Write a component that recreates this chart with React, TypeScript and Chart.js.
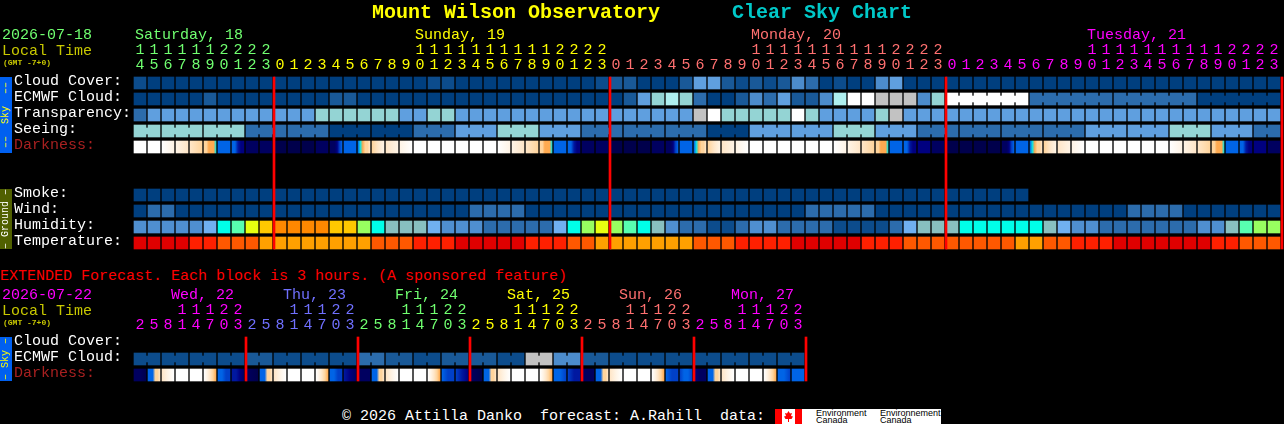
import React, { useEffect, useRef } from 'react';
import Chart from 'chart.js/auto';

const MONO = '"Liberation Mono", monospace';

// hour labels under each day colour
const hours = [
  '14', '15', '16', '17', '18', '19', '20', '21', '22', '23',
  '0', '1', '2', '3', '4', '5', '6', '7', '8', '9', '10', '11', '12', '13', '14', '15', '16', '17', '18', '19', '20', '21', '22', '23',
  '0', '1', '2', '3', '4', '5', '6', '7', '8', '9', '10', '11', '12', '13', '14', '15', '16', '17', '18', '19', '20', '21', '22', '23',
  '0', '1', '2', '3', '4', '5', '6', '7', '8', '9', '10', '11', '12', '13', '14', '15', '16', '17', '18', '19', '20', '21', '22', '23',
];
const hoursExt = [
  '2', '5', '8', '11', '14', '17', '20', '23', '2', '5', '8', '11', '14', '17', '20', '23',
  '2', '5', '8', '11', '14', '17', '20', '23', '2', '5', '8', '11', '14', '17', '20', '23',
  '2', '5', '8', '11', '14', '17', '20', '23', '2', '5', '8', '11', '14', '17', '20', '23',
];

const rowNames = ['Cloud Cover:', 'ECMWF Cloud:', 'Transparency:', 'Seeing:', 'Darkness:', '', '', 'Smoke:', 'Wind:', 'Humidity:', 'Temperature:'];
const rowNamesExt = ['Cloud Cover:', 'ECMWF Cloud:', 'Darkness:'];

const cloudCover = [
  1, 0, 0, 0, 0, 0, 0, 0, 0, 0,
  0, 0, 0, 0, 0, 0, 0, 0, 0, 0,
  0, 1, 1, 0, 0, 0, 0, 0, 0, 0,
  0, 0, 0, 1, 2, 2, 0, 0, 0, 2,
  5, 5, 2, 1, 2, 1, 2, 4, 3, 0,
  1, 0, 0, 4, 5, 0, 0, 0, 0, 0,
  0, 0, 0, 0, 0, 0, 0, 0, 0, 0,
  0, 0, 0, 0, 0, 0, 0, 0, 0, 0,
  0, 0,
];
const ecmwfCloud = [
  0, 0, 0, 0, 0, 2, 0, 0, 0, 0,
  0, 0, 0, 0, 2, 2, 0, 0, 0, 0,
  0, 0, 0, 0, 0, 0, 0, 0, 0, 0,
  0, 0, 0, 0, 0, 2, 5, 6, 7, 6,
  3, 0, 0, 2, 4, 3, 5, 2, 2, 4,
  7, 8, 8, 9, 9, 9, 4, 6, 8, 8,
  8, 8, 8, 8, 3, 3, 3, 3, 3, 3,
  3, 3, 3, 3, 3, 3, 0, 0, 0, 0,
  0, 0,
];
const transparency = [
  3, 5, 5, 5, 5, 5, 5, 5, 5, 5,
  5, 5, 5, 6, 6, 6, 6, 6, 6, 5,
  5, 6, 6, 5, 5, 5, 5, 5, 5, 5,
  5, 5, 5, 5, 5, 5, 5, 5, 5, 5,
  9, 8, 6, 6, 6, 6, 6, 8, 6, 5,
  5, 5, 5, 6, 9, 5, 5, 5, 5, 5,
  5, 5, 5, 5, 5, 5, 5, 5, 5, 5,
  5, 5, 5, 5, 5, 5, 5, 5, 5, 5,
  5, 5,
];
const seeing = [
  6, 6, 6, 6, 6, 6, 6, 6, 3, 3,
  3, 3, 3, 3, 0, 0, 0, 0, 0, 0,
  3, 3, 3, 5, 5, 5, 6, 6, 6, 5,
  5, 5, 3, 3, 3, 3, 3, 3, 3, 3,
  3, 0, 0, 0, 5, 5, 5, 5, 5, 5,
  6, 6, 6, 5, 5, 5, 3, 3, 3, 3,
  3, 3, 3, 3, 3, 3, 3, 3, 5, 5,
  5, 5, 5, 5, 6, 6, 6, 5, 5, 5,
  3, 3,
];
// stops across each block, left to right
const darkness = [
  [0], [0], [0, 1], [1, 2], [2, 3], [3, 3, 4, 4, 4, 5],
  [6], [6, 6, 8, 9, 9], [10], [10], [11], [11], [11], [10], [10, 10, 10, 9, 7, 6], [6],
  [6, 5, 4, 3, 3, 2], [3, 2, 1], [2, 1], [1, 0],
  [0], [0], [0], [0], [0], [0], [0, 1], [1, 2], [2, 3], [3, 3, 4, 4, 4, 5],
  [6], [6, 6, 8, 9, 9], [10], [10], [11], [11], [11], [10], [10, 10, 10, 9, 7, 6], [6],
  [6, 5, 4, 3, 3, 2], [3, 2, 1], [2, 1], [1, 0],
  [0], [0], [0], [0], [0], [0], [0, 1], [1, 2], [2, 3], [3, 3, 4, 4, 4, 5],
  [6], [6, 6, 8, 9, 9], [9], [10], [11], [11], [11], [11], [10, 10, 10, 9, 7, 6], [6],
  [6, 5, 4, 3, 3, 2], [3, 2, 1], [2, 1], [1, 0],
  [0], [0], [0], [0], [0], [0], [0, 1], [1, 2], [2, 3], [3, 3, 4, 4, 4, 5],
  [6], [6, 6, 8, 9, 9], [9], [10],
];
const smoke = [
  0, 0, 0, 0, 0, 0, 0, 0, 0, 0,
  0, 0, 0, 0, 0, 0, 0, 0, 0, 0,
  0, 0, 0, 0, 0, 0, 0, 0, 0, 0,
  0, 0, 0, 0, 0, 0, 0, 0, 0, 0,
  0, 0, 0, 0, 0, 0, 0, 0, 0, 0,
  0, 0, 0, 0, 0, 0, 0, 0, 0, 0,
  0, 0, 0, 0,
];
const wind = [
  0, 3, 3, 0, 0, 0, 0, 0, 0, 0,
  0, 0, 0, 0, 0, 0, 0, 0, 0, 0,
  0, 0, 0, 0, 3, 3, 3, 3, 0, 0,
  0, 0, 0, 0, 0, 0, 0, 0, 0, 0,
  0, 0, 0, 0, 0, 0, 0, 0, 3, 3,
  3, 3, 3, 0, 0, 0, 0, 0, 0, 0,
  0, 0, 0, 0, 0, 0, 0, 0, 0, 0,
  0, 3, 3, 3, 3, 0, 0, 0, 0, 0,
  0, 0,
];
const humidity = [
  2, 2, 2, 2, 2, 3, 5, 6, 8, 9,
  10, 10, 10, 10, 9, 9, 7, 5, 4, 4,
  4, 3, 2, 2, 2, 1, 1, 1, 1, 1,
  3, 5, 7, 8, 7, 6, 5, 4, 2, 1,
  1, 0, 0, 1, 2, 2, 1, 1, 1, 1,
  0, 0, 0, 0, 1, 3, 4, 4, 4, 5,
  5, 5, 5, 5, 5, 4, 3, 2, 2, 1,
  1, 1, 1, 1, 1, 1, 2, 2, 4, 6,
  7, 7,
];
const temperature = [
  0, 0, 0, 0, 1, 1, 2, 2, 2, 3,
  3, 3, 3, 3, 3, 3, 3, 2, 2, 2,
  1, 1, 1, 0, 0, 0, 0, 0, 1, 1,
  1, 2, 2, 3, 3, 3, 3, 3, 3, 3,
  2, 2, 2, 1, 1, 1, 1, 0, 0, 0,
  0, 0, 1, 1, 1, 2, 2, 2, 2, 2,
  2, 2, 2, 3, 3, 2, 2, 1, 1, 1,
  0, 0, 0, 0, 0, 0, 0, 1, 1, 2,
  2, 2,
];

const ecmwfExt = [
  1, 1, 1, 1, 1, 1, 1, 1, 2, 2, 1, 1, 1, 1, 1, 1,
  3, 3, 2, 2, 1, 1, 2, 2, 2, 2, 1, 1, 9, 9, 4, 4,
  2, 2, 1, 1, 1, 1, 1, 1, 1, 1, 1, 1, 1, 1, 1, 1,
];
const darknessExt = [
  [10, 10, 11], [6, 6, 6, 3, 3, 2], [2, 1, 0], [0], [0], [0, 1, 2, 3, 4], [6, 6, 7, 7], [8, 8, 9, 10],
  [10, 11], [6, 6, 6, 3, 3, 2], [2, 1, 0], [0], [0], [0, 1, 2, 3, 4], [6, 6, 7, 7], [8, 9, 10],
  [10, 10], [6, 6, 6, 3, 3, 2], [2, 1, 0], [0], [0], [0, 1, 2, 3, 4], [6, 7, 7], [7, 8, 9],
  [10, 11], [6, 6, 6, 3, 3, 2], [2, 1, 0], [0], [0], [0, 1, 2, 3, 4], [6, 6, 7], [7, 8, 8],
  [10, 10], [6, 6, 6, 3, 3, 2], [2, 1, 0], [0], [0], [0, 1, 2, 3, 4], [6, 7, 7], [7, 6, 6, 7],
  [9, 10, 10], [6, 6, 6, 3, 3, 2], [2, 1, 0], [0], [0], [0, 1, 2, 3, 4], [6, 6, 7], [6, 6, 6],
];

const dayStarts = [0, 10, 34, 58];
const dayColors = ['#70ff70', '#ffff00', '#ff7070', '#ff00ff'];
const dayStartsExt = [0, 8, 16, 24, 32, 40];
const dayColorsExt = ['#ff00ff', '#7070ff', '#70ff70', '#ffff00', '#ff7070', '#ff00ff'];
const dayEnds = [9.5, 33.5, 57.5, 81.5];
const dayEndsExt = [7.5, 15.5, 23.5, 31.5, 39.5, 47.5];

const skyPalette = ['#003f7f', '#0c4c8c', '#195998', '#2c6cac', '#4c8ccc', '#5f9fdf', '#94d4d4', '#afefef', '#ffffff', '#c2c2c2'];
const humidityPalette = ['#0c4c8c', '#2c6cac', '#4f8fd0', '#70b0f0', '#88c0c0', '#00ffe8', '#58ffb0', '#98ff60', '#e8ff10', '#ffc800', '#ff8800'];
const tempPalette = ['#e00000', '#ff2000', '#ff5800', '#ffa000'];
const darkPalette = ['#ffffff', '#fff4e6', '#ffe6c8', '#ffd49c', '#ffaa50', '#10e0e0', '#0064e6', '#0040c8', '#0018a0', '#000080', '#000060', '#00004c'];

const HALF = 6 / 16; // half a block height in row units
const BLOCK = 14;
const X_MAX = -0.5 + 1151 / BLOCK;

const cells = (row: number, levels: number[], palette: string[]) => ({
  barThickness: 12,
  data: levels.map((_, i) => ({ x: i, y: [row - HALF, row + HALF] })),
  backgroundColor: levels.map(v => palette[v]),
});

// the small neck that joins blocks of the same forecast run
const necks = (row: number, levels: number[], palette: string[], first: number, len: number) => {
  const data: any[] = [];
  const colors: string[] = [];
  for (let i = Math.max(first, 0); i < levels.length - 1; i++) {
    if ((i - first + 1) % len !== 0) {
      data.push({ x: i + 0.5, y: [row - HALF / 2, row + HALF / 2] });
      colors.push(palette[levels[i]]);
    }
  }
  return { barThickness: 2, data, backgroundColor: colors };
};

const darkCells = (row: number, stops: number[][]) => ({
  barThickness: 12,
  data: stops.map((_, i) => ({ x: i, y: [row - HALF, row + HALF] })),
  backgroundColor: (ctx: any) => {
    if (ctx.dataIndex === undefined) return darkPalette[0];
    const list = stops[ctx.dataIndex];
    if (list.length === 1) return darkPalette[list[0]];
    const left = ctx.chart.scales.x.getPixelForValue(ctx.dataIndex) - 6;
    if (!Number.isFinite(left)) return darkPalette[list[0]];
    const g = ctx.chart.ctx.createLinearGradient(left, 0, left + 12, 0);
    list.forEach((s, k) => g.addColorStop(k / (list.length - 1), darkPalette[s]));
    return g;
  },
});

const dayLines = (ends: number[], lastRow: number) => ({
  barThickness: 2,
  data: ends.map(e => ({ x: e + 1 / BLOCK, y: [-HALF, lastRow + HALF] })),
  backgroundColor: '#ff0000',
});

const makeOptions = (
  labels: string[], starts: number[], colors: string[],
  names: string[], lastRow: number, padTop: number, padBottom: number,
): any => ({
  responsive: false,
  animation: false,
  events: [],
  layout: { padding: { left: 14, top: padTop, bottom: padBottom, right: 0 } },
  datasets: { bar: { grouped: false } },
  plugins: { legend: { display: false }, tooltip: { enabled: false } },
  scales: {
    x: {
      type: 'linear',
      position: 'top',
      offset: false,
      min: -0.5,
      max: X_MAX,
      grid: { display: false },
      border: { display: false },
      afterFit: (s: any) => { s.height = 45; s.paddingLeft = 0; s.paddingRight = 0; },
      afterBuildTicks: (s: any) => { s.ticks = labels.map((_, i) => ({ value: i })); },
      ticks: {
        autoSkip: false,
        maxRotation: 0,
        minRotation: 0,
        padding: -6,
        font: { family: MONO, size: 15, lineHeight: 1 },
        callback: (_: any, i: number) => {
          const h = labels[i];
          return h.length > 1 ? [h[0], h[1]] : ['', h];
        },
        color: (ctx: any) => {
          let c = colors[0];
          starts.forEach((st, k) => { if (ctx.index >= st) c = colors[k]; });
          return c;
        },
      },
    },
    y: {
      type: 'linear',
      reverse: true,
      min: -0.5,
      max: lastRow + 0.5,
      grid: { display: false },
      border: { display: false },
      afterFit: (s: any) => { s.width = 119; s.paddingTop = 0; s.paddingBottom = 0; },
      afterBuildTicks: (s: any) => { s.ticks = names.map((_, i) => ({ value: i })); },
      ticks: {
        autoSkip: false,
        crossAlign: 'far',
        // the empty second line lifts the names a little above the row centre
        font: { family: MONO, size: 15, lineHeight: '4px' },
        callback: (_: any, i: number) => [names[i], ''],
        color: (ctx: any) => (names[ctx.index] === 'Darkness:' ? '#a82020' : '#ffffff'),
      },
    },
  },
});

const txt = (x: number, y: number, color: string, text: string, extra: React.CSSProperties = {}) => (
  <span
    style={{
      position: 'absolute', left: x, top: y - 9, height: 20, lineHeight: '20px', color,
      font: `15px/20px ${MONO}`, whiteSpace: 'pre', ...extra,
    }}
  >
    {text}
  </span>
);

const tab = (top: number, height: number, bg: string, color: string, text: string) => (
  <div
    style={{
      position: 'absolute', left: 0, top, width: 12, height, background: bg, color,
      display: 'flex', alignItems: 'center', justifyContent: 'center',
    }}
  >
    <span style={{ writingMode: 'vertical-rl', transform: 'rotate(180deg)', font: `10px/12px ${MONO}`, whiteSpace: 'pre' }}>{text}</span>
  </div>
);

export default function App() {
  const mainRef = useRef<HTMLCanvasElement>(null);
  const extRef = useRef<HTMLCanvasElement>(null);

  useEffect(() => {
    document.body.style.margin = '0';
    document.body.style.background = '#000';
    const main = new Chart(mainRef.current!, {
      type: 'bar',
      data: {
        datasets: [
          dayLines(dayEnds, 10),
          cells(0, cloudCover, skyPalette),
          cells(1, ecmwfCloud, skyPalette),
          necks(1, ecmwfCloud, skyPalette, 58, 6),
          cells(2, transparency, skyPalette),
          cells(3, seeing, skyPalette),
          necks(3, seeing, skyPalette, -1, 3),
          darkCells(4, darkness),
          cells(7, smoke, skyPalette),
          cells(8, wind, skyPalette),
          cells(9, humidity, humidityPalette),
          cells(10, temperature, tempPalette),
        ] as any,
      },
      options: makeOptions(hours, dayStarts, dayColors, rowNames, 10, 30, 5),
    });
    const ext = new Chart(extRef.current!, {
      type: 'bar',
      data: {
        datasets: [
          dayLines(dayEndsExt, 2),
          cells(1, ecmwfExt, skyPalette),
          necks(1, ecmwfExt, skyPalette, 0, 2),
          darkCells(2, darknessExt),
        ] as any,
      },
      options: makeOptions(hoursExt, dayStartsExt, dayColorsExt, rowNamesExt, 2, 0, 7),
    });
    return () => {
      main.destroy();
      ext.destroy();
    };
  }, []);

  const title: React.CSSProperties = { font: `bold 20px/20px ${MONO}` };
  const gmt: React.CSSProperties = { font: `bold 8px/20px ${MONO}` };

  return (
    <div style={{ position: 'relative', width: 1284, height: 424, background: '#000', overflow: 'hidden' }}>
      <canvas ref={mainRef} width={1284} height={256} style={{ position: 'absolute', left: 0, top: 0 }} />
      <canvas ref={extRef} width={1284} height={100} style={{ position: 'absolute', left: 0, top: 290 }} />

      {txt(372, 12, '#ffff00', 'Mount Wilson Observatory', title)}
      {txt(732, 12, '#00c8c8', 'Clear Sky Chart', title)}

      {txt(2, 35, '#70ff70', '2026-07-18')}
      {txt(2, 51, '#c8c800', 'Local Time')}
      {txt(3, 62, '#c8c800', '(GMT -7+0)', gmt)}
      {txt(135, 35, '#70ff70', 'Saturday, 18')}
      {txt(415, 35, '#ffff00', 'Sunday, 19')}
      {txt(751, 35, '#ff7070', 'Monday, 20')}
      {txt(1087, 35, '#ff00ff', 'Tuesday, 21')}

      {tab(77, 76, '#0060f0', '#ffff00', '\u2013\u2013  Sky  \u2013\u2013')}
      {tab(189, 60, '#506000', '#ffffff', '\u2013 Ground \u2013')}

      {txt(0, 276, '#ff0000', 'EXTENDED Forecast. Each block is 3 hours. (A sponsored feature)')}
      {txt(2, 295, '#ff00ff', '2026-07-22')}
      {txt(2, 311, '#c8c800', 'Local Time')}
      {txt(3, 322, '#c8c800', '(GMT -7+0)', gmt)}
      {txt(171, 295, '#ff00ff', 'Wed, 22')}
      {txt(283, 295, '#7070ff', 'Thu, 23')}
      {txt(395, 295, '#70ff70', 'Fri, 24')}
      {txt(507, 295, '#ffff00', 'Sat, 25')}
      {txt(619, 295, '#ff7070', 'Sun, 26')}
      {txt(731, 295, '#ff00ff', 'Mon, 27')}
      {tab(337, 44, '#0060f0', '#ffff00', '\u2013 Sky \u2013')}

      {txt(342, 416, '#ffffff', '\u00a9 2026 Attilla Danko  forecast: A.Rahill  data:')}
      <div style={{ position: 'absolute', left: 775, top: 409, width: 166, height: 15, background: '#fff', overflow: 'hidden' }}>
        <div style={{ position: 'absolute', left: 0, top: 0, width: 7, height: 15, background: '#ff0000' }} />
        <div style={{ position: 'absolute', left: 20, top: 0, width: 7, height: 15, background: '#ff0000' }} />
        <svg width="13" height="15" style={{ position: 'absolute', left: 7, top: 0 }}>
          <polygon points="6.5,2 8,4.5 10,4 9,7 11,7.5 9.5,10 7,10 7,13 6,13 6,10 3.5,10 2,7.5 4,7 3,4 5,4.5" fill="#ff0000" />
        </svg>
        {txt(41, 4, '#000', 'Environment', { font: '9px/8px "Liberation Sans"', top: 0, height: 8 })}
        {txt(41, 12, '#000', 'Canada', { font: '9px/8px "Liberation Sans"', top: 7, height: 8 })}
        {txt(105, 4, '#000', 'Environnement', { font: '9px/8px "Liberation Sans"', top: 0, height: 8 })}
        {txt(105, 12, '#000', 'Canada', { font: '9px/8px "Liberation Sans"', top: 7, height: 8 })}
      </div>
    </div>
  );
}
